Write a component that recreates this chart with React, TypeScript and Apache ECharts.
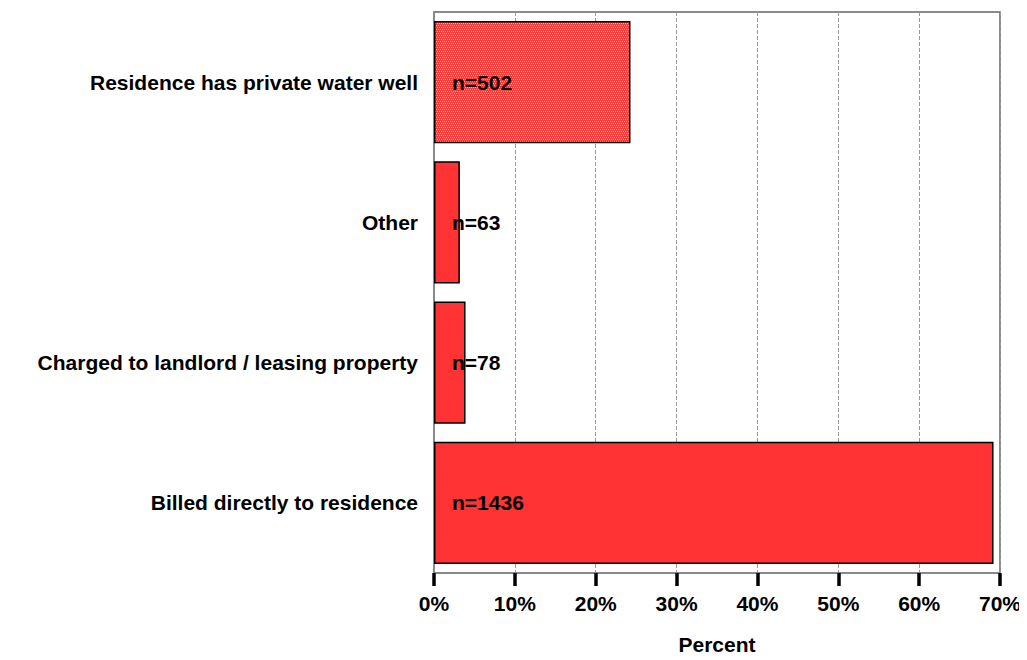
import React, { useEffect, useRef } from "react";
import * as echarts from "echarts";

const categories = [
  "Billed directly to residence",
  "Charged to landlord / leasing property",
  "Other",
  "Residence has private water well",
];
const percentValues = [69.2, 3.9, 3.2, 24.3];
const countLabels = ["n=1436", "n=78", "n=63", "n=502"];
const xTicks = [0, 10, 20, 30, 40, 50, 60, 70];

function makePattern(): string {
  const c = document.createElement("canvas");
  c.width = 4;
  c.height = 4;
  const ctx = c.getContext("2d");
  if (ctx) {
    ctx.fillStyle = "#FF3838";
    ctx.fillRect(0, 0, 4, 4);
    ctx.fillStyle = "#FFB0B0";
    ctx.fillRect(0, 1, 1, 1);
    ctx.fillRect(2, 1, 1, 1);
    ctx.fillRect(1, 3, 1, 1);
    ctx.fillRect(3, 3, 1, 1);
  }
  return c.toDataURL();
}

export default function App() {
  const ref = useRef<HTMLDivElement>(null);
  useEffect(() => {
    if (!ref.current) return;
    const chart = echarts.init(ref.current, null, { renderer: "svg" });
    const pattern = makePattern();
    const font = "'Liberation Sans', Arial, sans-serif";
    const fs = 21;
    chart.setOption({
      animation: false,
      backgroundColor: "#ffffff",
      grid: {
        left: 434,
        right: 27,
        top: 12,
        bottom: 86,
        show: true,
        borderColor: "#666666",
        borderWidth: 1.5,
        backgroundColor: "transparent",
      },
      xAxis: {
        type: "value",
        min: xTicks[0],
        max: xTicks[xTicks.length - 1],
        interval: 10,
        name: "Percent",
        nameLocation: "middle",
        nameGap: 61,
        nameTextStyle: { fontFamily: font, fontWeight: "bold", fontSize: fs, color: "#000" },
        axisLine: { show: true, lineStyle: { color: "#888", width: 1.5 } },
        axisTick: { show: true, length: 13, lineStyle: { color: "#000", width: 3.5 } },
        axisLabel: {
          margin: 20,
          fontFamily: font,
          fontWeight: "bold",
          fontSize: fs,
          color: "#000",
          formatter: (v: number) => v + "%",
        },
        splitLine: { show: true, lineStyle: { color: "#999", type: "dashed", width: 1 } },
      },
      yAxis: {
        type: "category",
        data: categories,
        axisLine: { show: true, lineStyle: { color: "#888", width: 1.5 } },
        axisTick: { show: false },
        axisLabel: {
          margin: 16,
          fontFamily: font,
          fontWeight: "bold",
          fontSize: fs,
          color: "#000",
        },
        splitLine: { show: false },
      },
      series: [
        {
          type: "bar",
          barCategoryGap: "13%",
          data: percentValues.map((v, i) => ({
            value: v,
            itemStyle:
              i === 3
                ? { color: { image: pattern, repeat: "repeat" } as any, borderColor: "#000", borderWidth: 1.5 }
                : { color: "#FF3333", borderColor: "#000", borderWidth: 1.5 },
          })),
          label: {
            show: true,
            position: [18, "50%"],
            verticalAlign: "middle",
            align: "left",
            fontFamily: font,
            fontWeight: "bold",
            fontSize: fs,
            color: "#000",
            formatter: (p: any) => countLabels[p.dataIndex],
          },
        },
      ],
    });
    return () => chart.dispose();
  }, []);
  return <div ref={ref} style={{ width: 1027, height: 660, margin: -8 }} />;
}
